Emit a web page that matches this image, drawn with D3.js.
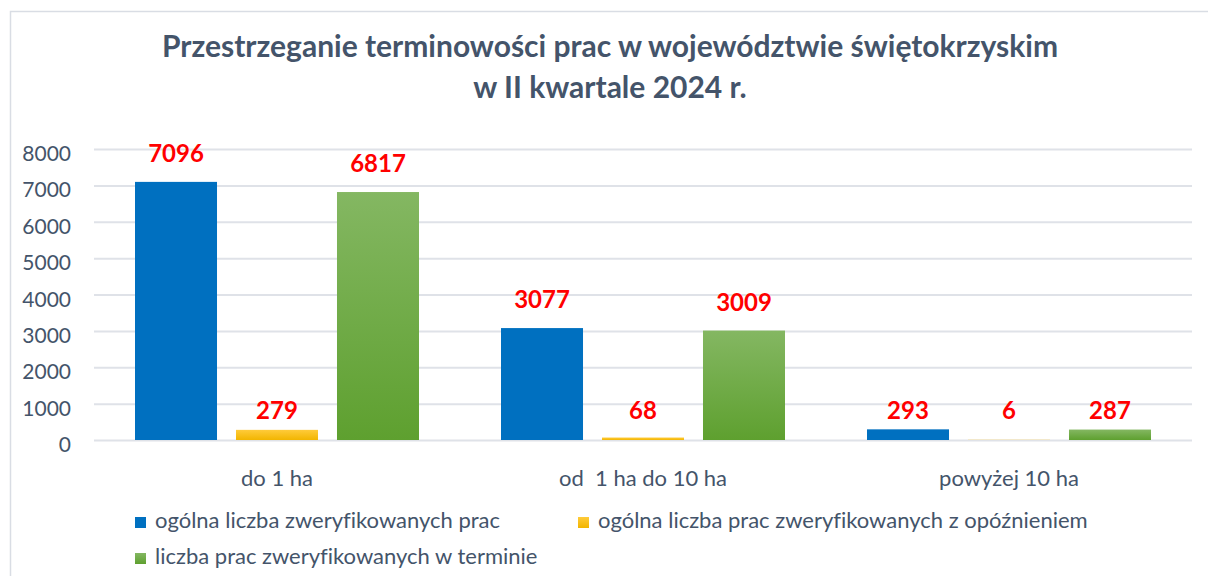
<!DOCTYPE html>
<html>
<head>
<meta charset="utf-8">
<script src="https://cdn.jsdelivr.net/npm/d3@7"></script>
<style>
  body { margin: 0; background: #fff; }
  svg { display: block; font-family: Lato, "Open Sans", sans-serif; font-variant-ligatures: none; }
</style>
</head>
<body>
<div id="chart"></div>
<script>
const titleLines = ["Przestrzeganie terminowości prac w województwie świętokrzyskim", "w II kwartale 2024 r."]
const categories = ["do 1 ha", "od  1 ha do 10 ha", "powyżej 10 ha"]
const seriesNames = ["ogólna liczba zweryfikowanych prac", "ogólna liczba prac zweryfikowanych z opóźnieniem", "liczba prac zweryfikowanych w terminie"]
const totalWorks = [7096, 3077, 293]
const delayedWorks = [279, 68, 6]
const onTimeWorks = [6817, 3009, 287]
const yTicks = [0, 1000, 2000, 3000, 4000, 5000, 6000, 7000, 8000]
const colors = ["#0070c0", "url(#gYellow)", "url(#gGreen)"]

const seriesValues = [totalWorks, delayedWorks, onTimeWorks]
const data = categories.map((c, i) => ({
  category: c,
  values: seriesNames.map((s, j) => ({ series: s, value: seriesValues[j][i] }))
}))

drawChart(data, "#chart")

function drawChart(data, id) {
  const canvas = createCanvas()
  const svg = addSvg(id, canvas)
  addDefs(svg)
  addFrame(svg, canvas)
  addTitle(svg, canvas)
  const sc = addScales(canvas)
  addGrid(svg, sc, canvas)
  addBars(svg, sc, data)
  addLegend(svg)
}

function createCanvas() {
  return {
    width: 1208, height: 576,
    plot: { left: 94, right: 1192, top: 149, bottom: 440 }
  }
}

function addSvg(id, canvas) {
  return d3.select(id).append("svg")
    .attr("width", canvas.width).attr("height", canvas.height)
    .attr("viewBox", `0 0 ${canvas.width} ${canvas.height}`)
}

function addDefs(svg) {
  const defs = svg.append("defs")
  const grad = (name, top, bottom) => {
    const g = defs.append("linearGradient").attr("id", name)
      .attr("x1", 0).attr("y1", 0).attr("x2", 0).attr("y2", 1)
    g.append("stop").attr("offset", "0%").attr("stop-color", top)
    g.append("stop").attr("offset", "100%").attr("stop-color", bottom)
  }
  grad("gYellow", "#ffcb3a", "#f2b500")
  grad("gGreen", "#84b762", "#5ea02f")
}

function addFrame(svg, canvas) {
  svg.append("path")
    .attr("d", `M10.5,${canvas.height + 2} V11.5 H${canvas.width + 2}`)
    .attr("fill", "none").attr("stroke", "#d9dde4").attr("stroke-width", 1.5)
}

function addTitle(svg, canvas) {
  svg.append("g").selectAll("text").data(titleLines).join("text")
    .attr("x", 610).attr("y", (d, i) => 57 + i * 41)
    .attr("text-anchor", "middle")
    .attr("font-size", 30).attr("font-weight", "bold").attr("fill", "#44546a")
    .text(d => d)
}

function addScales(canvas) {
  const p = canvas.plot
  const xScale = d3.scaleBand().domain(categories).range([p.left, p.right])
  const xInner = d3.scaleBand().domain(seriesNames).range([0, xScale.bandwidth()])
    .paddingInner(0.188).paddingOuter(0.406)
  const yScale = d3.scaleLinear().domain([0, 8000]).range([p.bottom, p.top])
  return { xScale, xInner, yScale }
}

function addGrid(svg, sc, canvas) {
  const p = canvas.plot
  const yAxis = svg.append("g").attr("transform", `translate(${p.left},0)`)
    .call(d3.axisLeft(sc.yScale).tickValues(yTicks).tickSize(-(p.right - p.left)).tickPadding(23).tickFormat(d3.format("d")))
  yAxis.select(".domain").remove()
  yAxis.selectAll(".tick line").attr("stroke", "#dfe2e8").attr("stroke-width", 2)
  yAxis.selectAll(".tick text").attr("font-size", 21).attr("fill", "#44546a")
    .attr("font-family", "Lato, sans-serif").attr("dy", "0.55em")

  const xAxis = svg.append("g").attr("transform", `translate(0,${p.bottom})`)
    .call(d3.axisBottom(sc.xScale).tickSize(0).tickPadding(30))
  xAxis.select(".domain").remove()
  xAxis.selectAll(".tick text").attr("font-size", 22).attr("fill", "#44546a")
    .attr("font-family", "Lato, sans-serif").style("white-space", "pre")
}

function addBars(svg, sc, data) {
  const groups = svg.append("g").selectAll("g").data(data).join("g")
    .attr("transform", d => `translate(${sc.xScale(d.category)},0)`)

  groups.selectAll("rect").data(d => d.values).join("rect")
    .attr("x", d => sc.xInner(d.series))
    .attr("width", sc.xInner.bandwidth())
    .attr("y", d => sc.yScale(d.value))
    .attr("height", d => sc.yScale(0) - sc.yScale(d.value))
    .attr("fill", (d, i) => colors[i])

  // labels of the short bars sit on one common line
  groups.selectAll("text").data(d => d.values).join("text")
    .attr("x", d => sc.xInner(d.series) + sc.xInner.bandwidth() / 2)
    .attr("y", d => d.value < 500 ? sc.yScale(0) - 21 : sc.yScale(d.value) - 20)
    .attr("text-anchor", "middle")
    .attr("font-size", 24).attr("font-weight", "bold").attr("fill", "#ff0000")
    .text(d => d.value)
}

function addLegend(svg) {
  const pos = [[135, 517], [578, 517], [135, 553]]
  const items = svg.append("g").selectAll("g").data(seriesNames).join("g")
    .attr("transform", (d, i) => `translate(${pos[i][0]},${pos[i][1]})`)
  items.append("rect").attr("width", 11).attr("height", 11)
    .attr("fill", (d, i) => colors[i])
  items.append("text").attr("x", 20).attr("y", 11)
    .attr("font-size", 22).attr("fill", "#44546a")
    .text(d => d)
}
</script>
</body>
</html>
